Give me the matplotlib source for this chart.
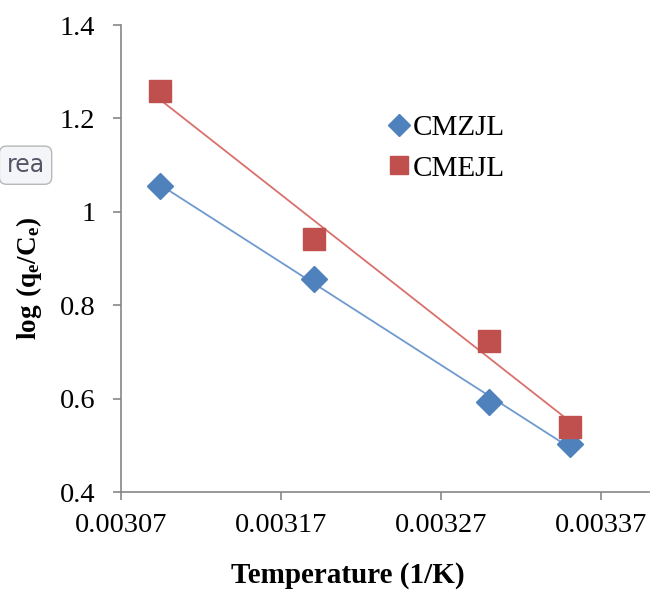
import matplotlib
matplotlib.use("Agg")
import matplotlib.pyplot as plt
import numpy as np

plt.rcParams['font.family'] = ['Liberation Serif', 'DejaVu Serif']
plt.rcParams['mathtext.fontset'] = 'custom'
plt.rcParams['mathtext.rm'] = 'Liberation Serif'
plt.rcParams['mathtext.bf'] = 'Liberation Serif:bold'

inv_temp = [0.0030945, 0.0031905, 0.0033, 0.0033505]
cmzjl = [1.055, 0.856, 0.593, 0.503]
cmejl = [1.259, 0.941, 0.723, 0.539]
series_names = ['CMZJL', 'CMEJL']
x_ticks = [0.00307, 0.00317, 0.00327, 0.00337]
y_ticks = [0.4, 0.6, 0.8, 1.0, 1.2, 1.4]

blue = '#4F81BD'
red = '#C0504D'

fig = plt.figure(figsize=(6.5, 5.9), dpi=100)
ax = fig.add_axes([0.186, 0.166, 0.812, 0.7915])

x = np.array(inv_temp)
handles = []
for ys, col, line_col, mk, ms, name in [
        (cmzjl, blue, '#6F9AD0', 'D', 13, series_names[0]),
        (cmejl, red, '#D9706C', 's', 15.5, series_names[1])]:
    ys = np.array(ys)
    k, b = np.polyfit(x, ys, 1)
    xx = np.array([x.min(), x.max()])
    ax.plot(xx, k * xx + b, color=line_col, lw=1.3, zorder=2)
    h, = ax.plot(x, ys, linestyle='none', marker=mk, ms=ms, color=col,
                 markeredgecolor=col, label=name, zorder=3)
    handles.append(h)

ax.set_xlim(0.00307, 0.00340)
ax.set_ylim(0.4, 1.4)
ax.set_xticks(x_ticks)
ax.set_xticklabels(['%.5f' % v for v in x_ticks])
ax.set_yticks(y_ticks)
ax.set_yticklabels(['0.4', '0.6', '0.8', '1', '1.2', '1.4'])

for s in ['top', 'right']:
    ax.spines[s].set_visible(False)
for s in ['left', 'bottom']:
    ax.spines[s].set_color('#868686')
    ax.spines[s].set_linewidth(1.2)
ax.tick_params(axis='both', colors='#868686', labelcolor='black',
               labelsize=20.5, length=6, width=1.2, direction='out')
ax.tick_params(axis='x', pad=9)
ax.tick_params(axis='y', pad=12.5)

ax.set_xlabel('Temperature (1/K)', fontsize=21, fontweight='bold')
ax.xaxis.set_label_coords(348 / 650, (590 - 562) / 590, transform=fig.transFigure)
ax.set_ylabel(r'$\mathbf{log\ (q_e/C_e)}$', fontsize=19.5)
ax.yaxis.set_label_coords(44 / 650, (590 - 278) / 590, transform=fig.transFigure)

leg = ax.legend(handles=handles, loc='upper left',
                bbox_to_anchor=(387 / 650, (590 - 115) / 590),
                bbox_transform=fig.transFigure, frameon=False,
                fontsize=21, handletextpad=0.1, labelspacing=0.47,
                handlelength=0.8, borderaxespad=0, borderpad=0,
                markerscale=0.85)

fig.text(0.01, 0.72, 'rea', fontsize=17, family='DejaVu Sans', color='#555566',
         va='center', ha='left',
         bbox=dict(boxstyle='round,pad=0.3', fc='#F4F5F9', ec='#B8B8B8'))

fig.savefig('out.png', dpi=100)
